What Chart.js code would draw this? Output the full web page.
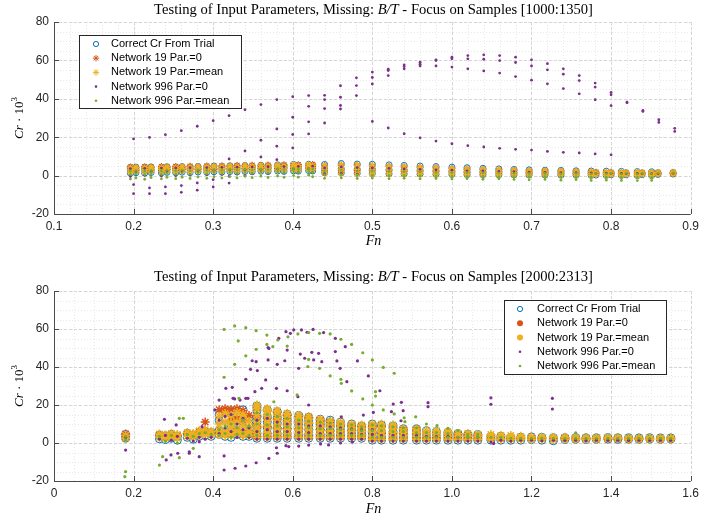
<!DOCTYPE html>
<html>
<head>
<meta charset="utf-8">
<script src="https://cdn.jsdelivr.net/npm/chart.js@4.4.1/dist/chart.umd.min.js"></script>
<style>
  html, body { margin: 0; padding: 0; background: #fff; }
  #wrap { position: relative; width: 704px; height: 521px; overflow: hidden; background: #fff; }
  canvas { position: absolute; left: 0; }
  .ttl { position: absolute; left: 54px; width: 639px; line-height: 18px; text-align: center; font: 14.6px "Liberation Serif", serif; color: #000; white-space: nowrap; }
  .xl { position: absolute; left: 54px; width: 639px; line-height: 18px; text-align: center; font: italic 14px "Liberation Serif", serif; color: #000; }
  .yl { position: absolute; font: 13px "Liberation Serif", serif; color: #000; white-space: nowrap; transform: translate(-50%, -50%) rotate(-90deg); }
  .yl sup { font-size: 9px; }
</style>
</head>
<body>
<div id="wrap">
  <canvas id="topChart" width="704" height="260" style="top:0;width:704px;height:260px"></canvas>
  <canvas id="botChart" width="704" height="261" style="top:260px;width:704px;height:261px"></canvas>
  <div class="ttl" style="top:1px">Testing of Input Parameters, Missing: <i>B/T</i> - Focus on Samples [1000:1350]</div>
  <div class="ttl" style="top:268px">Testing of Input Parameters, Missing: <i>B/T</i> - Focus on Samples [2000:2313]</div>
  <div class="xl" style="top:233px">Fn</div>
  <div class="xl" style="top:501px">Fn</div>
  <div class="yl" style="left:18px;top:118px"><i>Cr</i> · 10<sup>3</sup></div>
  <div class="yl" style="left:18px;top:386px"><i>Cr</i> · 10<sup>3</sup></div>
</div>
<script>
const labels = ["Correct Cr From Trial", "Network 19 Par.=0", "Network 19 Par.=mean", "Network 996 Par.=0", "Network 996 Par.=mean"];
const colors = ["#0072BD", "#D95319", "#EDB120", "#7E2F8E", "#77AC30"];

// ---- top plot, samples 1000:1350 ----
const topFn = [0.196, 0.203, 0.214, 0.222, 0.235, 0.242, 0.253, 0.261, 0.271, 0.281,
  0.292, 0.301, 0.311, 0.321, 0.330, 0.340, 0.349, 0.360, 0.369, 0.381,
  0.389, 0.401, 0.407, 0.420, 0.425, 0.440, 0.461, 0.481, 0.500, 0.521,
  0.540, 0.560, 0.580, 0.600, 0.619, 0.639, 0.659, 0.678, 0.697, 0.717,
  0.737, 0.756, 0.775, 0.781, 0.794, 0.800, 0.813, 0.819, 0.833, 0.839,
  0.851, 0.859, 0.878];

const topCorrect = [[1.2,2.8,4.2],[1.5,3.0,4.4],[1.3,2.9,4.3],[1.6,3.1,4.5],[1.4,2.9,4.2],[1.7,3.2,4.6],[1.5,3.0,4.3],[1.8,3.3,4.7],[1.6,3.1,4.5],[1.9,3.4,4.8],
  [1.7,3.2,4.6],[2.0,3.5,5.0],[1.8,3.3,4.7],[2.1,3.6,5.1],[1.9,3.4,4.9],[2.2,3.7,5.3],[2.0,3.5,5.0],[2.3,3.8,5.4],[2.1,3.6,5.1],[2.4,4.0,5.6],
  [2.2,3.7,5.2],[2.5,4.1,5.8],[2.3,3.8,5.3],[2.6,4.2,5.9],[2.4,3.9,5.4],[1.5,3.5,5.8],[1.4,3.6,6.3],[1.2,3.4,6.0],[1.1,3.3,5.9],[1.0,3.1,5.6],
  [0.9,3.0,5.3],[0.8,2.8,5.0],[0.7,2.6,4.7],[0.6,2.4,4.4],[0.5,2.2,4.1],[0.5,2.0,3.8],[0.4,1.9,3.5],[0.4,1.8,3.2],[0.3,1.6,3.0],[0.3,1.5,2.8],
  [0.2,1.4,2.7],[0.2,1.3,2.5],[0.1,1.2,2.4],[0.3,1.5],[0.1,1.2,2.3],[0.4,1.5],[0.1,1.1,2.2],[0.4,1.4],[0.0,1.0,2.1],[0.5,1.4],
  [0.0,1.0,2.0],[0.6,1.5],[0.8,1.6]];

const topNet19Zero = [[3.3,4.5],[2.9,4.1],[3.4,4.6],[3.0,4.3],[3.5,4.7],[3.1,4.4],[3.6,4.8],[3.2,4.5],[3.7,4.9],[3.3,4.6],
  [3.8,5.0],[3.4,4.8],[3.9,5.1],[3.5,4.9],[4.0,5.3],[3.6,5.0],[4.1,5.4],[3.7,5.1],[4.2,5.5],[3.8,5.3],
  [4.3,5.6],[3.9,5.4],[4.4,5.7],[4.0,5.5],[4.5,5.8],[3.0,5.2],[2.8,5.5],[2.6,5.3],[2.5,5.0],[2.4,4.8],
  [2.2,4.5],[2.0,4.2],[1.9,4.0],[1.8,3.7],[1.6,3.4],[1.5,3.1],[1.4,2.9],[1.3,2.7],[1.2,2.5],[1.1,2.3],
  [1.0,2.2],[1.0,2.0],[0.9,1.9],[1.0,1.8],[0.8,1.7],[1.0,1.7],[0.8,1.6],[1.0,1.6],[0.7,1.5],[1.0,1.5],
  [0.7,1.4],[1.0,1.5],[1.1,1.6]];

const topNet19Mean = [[1.8,3.0,4.0],[2.1,3.4,4.3],[1.9,3.1,4.1],[2.2,3.5,4.4],[2.0,3.2,4.1],[2.3,3.6,4.5],[2.1,3.3,4.2],[2.4,3.7,4.6],[2.2,3.4,4.4],[2.5,3.8,4.7],
  [2.3,3.5,4.5],[2.6,3.9,4.9],[2.4,3.6,4.6],[2.7,4.0,5.0],[2.5,3.7,4.8],[2.8,4.1,5.2],[2.6,3.8,4.9],[2.9,4.2,5.3],[2.7,3.9,5.0],[3.0,4.3,5.5],
  [2.8,4.0,5.1],[3.1,4.4,5.7],[2.9,4.1,5.2],[3.2,4.5,5.8],[3.0,4.2,5.3],[1.2,3.2,5.0],[1.0,3.4,5.6],[0.9,3.2,5.4],[0.8,3.0,5.2],[0.7,2.8,4.9],
  [0.6,2.6,4.6],[0.6,2.5,4.3],[0.5,2.3,4.0],[0.5,2.1,3.7],[0.4,2.0,3.4],[0.4,1.8,3.2],[0.3,1.7,3.0],[0.3,1.6,2.8],[0.3,1.4,2.6],[0.3,1.3,2.4],
  [0.2,1.3,2.3],[0.2,1.2,2.2],[0.2,1.1,2.0],[0.6,1.5],[0.2,1.0,1.9],[0.7,1.6],[0.2,1.0,1.8],[0.7,1.5],[0.1,0.9,1.8],[0.8,1.6],
  [0.1,0.9,1.7],[0.8,1.6],[0.9,1.7]];

const topNet996Mean = [[2.4,0.6,-1.8],[2.6,1.0,-1.2],[2.3,0.5,-1.9],[2.7,1.1,-1.0],[2.4,0.6,-1.7],[2.8,1.2,-0.9],[2.5,0.7,-1.6],[2.9,1.3,-0.8],[2.6,0.8,-1.5],[3.0,1.4,-0.7],
  [2.7,0.9,-1.4],[3.1,1.5,-0.6],[2.8,1.0,-1.3],[3.2,1.6,-0.5],[2.9,1.1,-1.2],[3.3,1.7,-0.4],[3.0,1.2,-1.1],[3.4,1.8,-0.3],[3.1,1.3,-1.0],[3.5,1.9,-0.2],
  [3.2,1.4,-0.9],[3.6,2.0,0.0],[3.3,1.5,-0.8],[3.7,2.1,0.2],[3.4,1.6,-0.6],[2.6,0.4,-1.4],[2.8,0.5,-1.2],[2.5,0.3,-1.5],[2.4,0.2,-1.3],[2.2,0.1,-1.6],
  [2.0,0.0,-1.4],[1.9,-0.1,-1.7],[1.7,-0.2,-1.5],[1.6,-0.3,-1.8],[1.5,-0.4,-1.6],[1.4,-0.4,-1.9],[1.3,-0.5,-1.7],[1.2,-0.5,-2.0],[1.1,-0.6,-2.2],[1.1,-0.6,-2.0],
  [1.0,-0.7,-2.4],[1.0,-0.7,-2.1],[0.9,-0.8,-2.5],[1.2],[0.9,-0.8,-2.4],[1.3],[0.8,-0.9,-2.5],[1.3],[0.8,-0.9,-2.6],[1.2],
  [0.8,-1.0,-2.5],[1.3],[1.4]];

const topNet996Zero = [[3.6,-0.5],[2.0],[3.8,0.2],[2.2],[3.9,-0.2],[2.4],[4.0,0.0],[2.5],[4.1,0.3],[2.6],
  [4.2,0.5],[2.8],[4.3,0.6],[3.0],[4.4,0.8],[3.1],[4.5,1.0],[3.2],[4.6,1.2],[3.4],
  [4.7,1.4],[3.5],[4.8,1.5],[3.6],[4.9,1.6],[4.0,1.0],[4.5,1.2],[4.2,0.8],[4.0],[3.8],
  [3.5],[3.2],[3.0],[2.8],[2.5],[2.4],[2.2],[2.0],[1.8],[1.7],
  [1.6],[1.5],[1.4],[1.2],[1.3],[1.2],[1.2],[1.1],[1.1],[1.0],
  [1.0],[1.0],[1.2]];

// scattered Network 996 Par.=0 points, [Fn, Cr]
const topNet996ZeroOut = [[0.20,19.1],[0.20,-4.7],[0.20,-9.4],[0.22,19.9],[0.22,-6.4],[0.22,-9.4],
  [0.24,21.3],[0.24,-5.9],[0.24,-9.4],[0.26,23.4],[0.26,-5.2],[0.26,-8.7],
  [0.28,25.7],[0.28,-3.8],[0.28,-7.6],[0.30,28.6],[0.30,-2.1],[0.30,-5.9],
  [0.32,31.2],[0.32,8.7],[0.32,-0.4],[0.32,-3.9],[0.34,34.3],[0.34,12.8],[0.34,0.0],
  [0.36,37.0],[0.36,18.4],[0.36,9.7],[0.38,39.6],[0.38,24.3],[0.38,15.3],[0.38,8.3],
  [0.40,41.1],[0.40,30.4],[0.40,21.4],[0.40,14.4],[0.42,41.7],[0.42,36.1],[0.42,28.0],[0.42,21.7],
  [0.44,41.8],[0.44,39.6],[0.44,34.9],[0.44,27.4],[0.46,46.8],[0.46,40.8],[0.46,36.5],[0.46,34.7],
  [0.48,50.9],[0.48,46.9],[0.48,41.7],[0.50,53.9],[0.50,51.1],[0.50,47.7],[0.50,28.2],
  [0.52,55.4],[0.52,54.7],[0.52,52.1],[0.52,24.8],[0.54,57.7],[0.54,56.8],[0.54,55.6],[0.54,21.8],
  [0.56,59.1],[0.56,58.0],[0.56,57.1],[0.56,19.7],[0.58,60.3],[0.58,59.9],[0.58,57.1],[0.58,18.0],
  [0.60,61.7],[0.60,60.8],[0.60,56.5],[0.60,16.6],[0.62,62.5],[0.62,60.8],[0.62,55.6],[0.62,15.6],
  [0.64,62.9],[0.64,60.6],[0.64,54.5],[0.64,14.9],[0.66,62.5],[0.66,59.9],[0.66,53.4],[0.66,14.2],
  [0.68,61.7],[0.68,58.9],[0.68,51.6],[0.68,13.7],[0.70,60.3],[0.70,57.1],[0.70,49.7],[0.70,13.3],
  [0.72,58.3],[0.72,55.1],[0.72,47.8],[0.72,12.6],[0.74,55.6],[0.74,52.8],[0.74,45.3],[0.74,12.1],
  [0.76,52.1],[0.76,49.5],[0.76,42.6],[0.76,11.8],[0.78,48.2],[0.78,46.1],[0.78,39.5],[0.78,11.3],
  [0.80,43.3],[0.80,42.1],[0.80,36.4],[0.80,10.8],[0.82,38.3],[0.82,37.9],[0.84,33.4],[0.84,33.9],
  [0.86,29.1],[0.86,27.7],[0.88,24.6],[0.88,23.0]];

// ---- bottom plot, samples 2000:2313 ----
const botFn = [0.180, 0.265, 0.280, 0.295, 0.310, 0.335, 0.350, 0.365, 0.380, 0.395,
  0.415, 0.430, 0.445, 0.460, 0.475, 0.490, 0.510, 0.536, 0.561, 0.586,
  0.615, 0.640, 0.669, 0.694, 0.720, 0.748, 0.773, 0.800, 0.823, 0.852,
  0.878, 0.911, 0.936, 0.961, 0.990, 1.015, 1.040, 1.065, 1.098, 1.123,
  1.148, 1.173, 1.200, 1.226, 1.255, 1.284, 1.311, 1.337, 1.363, 1.392,
  1.417, 1.444, 1.470, 1.497, 1.524, 1.550];

const botCorrect = [[2.5,4.5],[2.2,4.2],[1.8,3.8],[2.5,4.5],[1.5,3.5],[3.0,5.0],[2.0,4.2],[3.5,5.5],[4.0,6.0],[3.5,5.5],
  [4.5,6.5,12,15],[3.5,5.5,13,16.5],[3.0,5.0,9,17],[4.5,6.5,12,14.5],[3.5,5.0,8,17.5],[3.5,5.5,10,13],[2.5,5,8,11,14,17,19.5],[2.5,5,8,11,14,17.5],[2.5,5,7.5,10.5,13.5,16.5],[2.5,5,7.5,10,12.5,15],
  [2.5,4.5,7,9.5,12,14.5],[2.5,4.5,7,9.5,12,13.5],[2.5,4.5,7,9,11,12.5],[2.5,4.5,6.5,8.5,10.5,12],[2.5,4.5,6.5,8.5,11],[2.5,4.5,6.5,8.5,10],[2.5,4.5,6.5,9],[1.5,3.5,5.5,8,10],[1.5,3.5,6,9.5],[1.5,3.5,6,9],
  [1.5,3.5,5.5,7.5],[1.5,3.5,5.5,7.5],[1.5,3.5,6.5],[1.5,3.5,6],[1.5,3.5,5.5],[1.5,3.5,5],[1.5,3.5,4.5],[1.5,3.5,4.5],[1.5,3.5],[1.5,3.5],
  [1.5,3.0],[1.5,3.0],[1.8,3.2],[1.5,3.0],[1.2,2.8],[1.8,2.8],[1.9,2.9],[1.8,2.8],[1.9,2.8],[2.0,2.9],
  [1.9,2.8],[2.0,2.8],[1.9,2.7],[2.0,2.8],[1.9,2.7],[2.0,2.7]];

const botNet19Zero = [[3.5,4.8],[4.2],[3.5],[4.5],[4.0],[5.0],[4.5],[6.0],[11.0,6.0],[5.5],
  [17.5,6.5],[16.0,18.0,5.0],[17.5,12.5,5.5],[18.0,13.0,6.0],[17.0,12.0,4.5],[14.5,5.0],[3.5,8.5,13.5,18.5],[3.5,8.5,13,17],[3.5,8,12.5,16],[3.5,7.5,11.5,14.5],
  [3.5,7.5,11,14],[3.5,7,10.5,13],[3.5,7,10,12],[3.5,6.5,9.5,11.5],[3.5,6.5,9.5],[3.5,6.5,9],[3.5,6,8.5],[2.5,6,9],[2.5,5,8.5],[2.5,5,8],
  [2.5,5,7],[2.5,5,7],[2.5,5],[2.5,5],[2.5,4.5],[2.5,4.5],[2.5,4],[2.5,4],[2.5],[2.5],
  [2.3],[2.3],[2.5],[2.3],[2.0],[2.5],[2.3],[2.2],[2.3],[2.3],
  [2.2],[2.3],[2.2],[2.3],[2.2],[2.3]];

const botNet19Mean = [[2.5,4],[3.0,4.8],[2.5,4.2],[3.2,5],[2.5,4.5],[3.5,5.5],[3,5],[4,6.5],[4.5,7],[4,6],
  [4.5,6.5,10,14],[4,6,11,15.5],[4,5.5,8,10.5,14.5],[5,7,11,16],[4,6,9,13,15],[4,6,8.5,11.5],[3,5.5,7,9.5,12,15,18,20],[3,5.5,7,9.5,12,14.5,17,18],[3,5,7,9.5,12,14.5,17],[3,5,7,9,11,13.5,15.5],
  [3,5,7,9,11,13,14.5],[3,5,7,8.5,10.5,12.5,14],[3,5,6.5,8.5,10.5,12.5],[3,5,6.5,8,10,11.5],[3,5,6.5,8,10,11],[3,4.5,6,8,10],[3,4.5,6,7.5,9.5],[2,4,6,8,10],[2,4,6,8,10],[2,4,5.5,7.5,9.5],
  [2,4,5.5,7.5],[2,3.5,5.5,7.5],[2,3.5,5,6.5],[2,3.5,5,6.5],[2,3.5,5,6],[2,3.5,5],[2,3.5,5],[2,3.5,4.5],[2,3.5,4.5],[2,3.5,4],
  [2,3,4],[2,3,3.5],[2,3.2],[2,3],[1.8,3],[2,3],[2,2.8],[2,2.8],[2,2.8],[2.2,2.8],
  [2.2,2.8],[2,2.6],[2,2.6],[2,2.6],[2,2.6],[2,2.6]];

const botNet996Zero = [[3],[2],[4],[1.5],[3.5],[2.5],[1],[3],[2],[3],
  [5,12],[8,14],[6,15],[10,3],[7,13],[3,8],[2,6,12],[2,7,13],[2,6,11],[2,6,10],
  [2,5.5,10],[2,5.5,9],[2,5,9],[2,5,8.5],[2,5,8],[2,5,7.5],[2,4.5,7],[1,4.5,7],[1,4],[1,4],
  [1,4],[1,4],[1,3.5],[1,3.5],[1,3.5],[1,3],[1,3],[1,3],[0.5],[1.5],
  [1],[1.5],[1.5],[1.2],[1.5],[1.4],[1.5],[1.3],[1.5],[1.4],
  [1.5],[1.4],[1.5],[1.4],[1.5],[1.4]];

const botNet996Mean = [[1.5,3.5],[3.5],[1],[4],[0],[4.5],[3.5],[5],[5.5],[4.5],
  [7,4],[9,5],[10,3],[8,4.5],[12,5],[9,4],[4,10,16],[4,9.5,15],[4,9,14],[4,8.5,13],
  [4,8,12],[4,8,11.5],[4,7.5,11],[4,7.5,10.5],[4,7,10],[4,7,9.5],[4,6.5,8.5],[3,6.5,9.5],[3,6.5,9],[3,6,8.5],
  [3,6,8],[3,5.5,8],[3,5.5],[3,5.5],[3,5],[3,6.5],[3,4.5],[3,4.5],[3],[3],
  [2.5],[2.5],[2.5],[2.5],[2.5],[2.5],[2.5],[2.5],[2.5],[2.5],
  [2.5],[2.5],[2.5],[2.5],[2.5],[2.5]];

const botNet996ZeroOut = [[0.18,-3.7],[0.2775,12.5],[0.282,-8.9],[0.294,-6.3],[0.307,9.5],[0.311,-5.4],[0.34,-5.4],[0.34,-4.6],[0.365,0.7],[0.365,-7.2],
  [0.372,8.6],[0.404,17.4],[0.415,22.6],[0.432,28.8],[0.448,29.3],[0.45,23.5],[0.454,23.2],[0.4675,22.6],[0.482,33.5],[0.482,23.5],
  [0.4875,23.5],[0.494,38.8],[0.498,43.3],[0.505,27.0],[0.508,42.8],[0.511,38.1],[0.522,28.8],[0.532,33.2],[0.538,50.2],[0.538,43.7],
  [0.54,49.8],[0.559,28.8],[0.561,41.4],[0.565,55.1],[0.58,43.3],[0.583,58.6],[0.586,48.9],[0.586,27.5],[0.594,57.7],[0.6025,59.5],
  [0.613,24.4],[0.615,39.3],[0.619,46.8],[0.622,59.5],[0.63,44.6],[0.636,58.3],[0.64,20.0],[0.648,47.7],[0.651,59.8],[0.6525,43.7],
  [0.665,47.2],[0.673,42.8],[0.6775,58.1],[0.707,55.1],[0.707,48.1],[0.711,43.2],[0.719,39.3],[0.722,13.8],[0.732,50.7],[0.736,32.3],
  [0.7625,43.2],[0.7775,14.7],[0.79,35.3],[0.8025,16.1],[0.819,27.5],[0.848,16.5],[0.8525,20.5],[0.873,21.4],[0.8775,17.0],[0.872,11.7],
  [0.94,21.2],[0.94,19.1],[1.098,23.8],[1.098,20.4],[1.2525,23.5],[1.2525,17.9],[1.105,-0.2],
  [0.4275,-6.8],[0.4275,-14.2],[0.455,-13.3],[0.482,-12.1],[0.508,-10.4],[0.54,-8.1],[0.561,-5.4],[0.559,-2.5],[0.583,-1.4],[0.59,-1.9],
  [0.615,-1.6],[0.64,-1.1],[0.67,-0.5],[0.69,-1.0],[0.72,0.0],[0.75,0.5]];

const botNet996MeanOut = [[0.18,-15.1],[0.178,-17.7],[0.265,-11.6],[0.273,-7.2],[0.315,-7.7],[0.35,-2.8],[0.315,13.0],[0.325,13.0],
  [0.4275,59.8],[0.454,61.6],[0.482,60.7],[0.508,59.1],[0.535,56.8],[0.4275,34.6],[0.454,41.4],[0.463,53.7],[0.482,45.9],[0.508,49.3],
  [0.535,51.9],[0.55,50.7],[0.5625,54.2],[0.586,51.0],[0.588,55.9],[0.613,57.4],[0.64,58.1],[0.6675,57.7],[0.694,57.4],[0.721,54.6],
  [0.748,51.9],[0.776,47.5],[0.80,43.7],[0.8275,39.8],[0.855,36.7],[0.638,40.2],[0.64,44.0],[0.6675,39.3],[0.694,35.3],[0.721,33.5],
  [0.722,31.4],[0.748,27.4],[0.776,23.2],[0.80,20.0],[0.808,27.0],[0.808,24.7],[0.8275,17.4],[0.855,15.3],[0.88,13.3],[0.882,11.2],
  [0.909,13.8],[0.936,10.0],[0.9625,9.1],[0.99,7.7],[1.311,5.4],[0.5525,21.7],[0.611,25.3],[0.465,23.5]];

function clusterPoints(fns, cols) {
  const out = [];
  cols.forEach((col, i) => col.forEach(v => out.push({ x: fns[i], y: v })));
  return out;
}
function pairPoints(list) {
  return list.map(([x, y]) => ({ x, y }));
}

function makeDatasets(big, correct, r0, rm, p0, pm) {
  const ring = big ? 4 : 3;
  const star = big ? 4.5 : 3.5;
  const dot = big ? 1.6 : 1.4;
  return [
    { label: labels[0], data: correct, pointStyle: "circle", pointRadius: ring, borderColor: colors[0], backgroundColor: "rgba(0,0,0,0)", pointBorderWidth: 1, order: 5 },
    { label: labels[1], data: r0, pointStyle: "star", pointRadius: star, borderColor: colors[1], backgroundColor: colors[1], pointBorderWidth: big ? 1.5 : 1.2, order: 4 },
    { label: labels[2], data: rm, pointStyle: "star", pointRadius: star, borderColor: colors[2], backgroundColor: colors[2], pointBorderWidth: big ? 1.5 : 1.2, order: 3 },
    { label: labels[3], data: p0, pointStyle: "circle", pointRadius: dot, borderColor: colors[3], backgroundColor: colors[3], pointBorderWidth: 0, order: 2 },
    { label: labels[4], data: pm, pointStyle: "circle", pointRadius: dot, borderColor: colors[4], backgroundColor: colors[4], pointBorderWidth: 0, order: 1 },
  ];
}

function drawMarker(ctx, kind, color, x, y) {
  ctx.save();
  ctx.setLineDash([]);
  ctx.strokeStyle = color;
  ctx.fillStyle = color;
  ctx.lineWidth = 1;
  if (kind === "ring") {
    ctx.beginPath(); ctx.arc(x, y, 2.6, 0, Math.PI * 2); ctx.stroke();
  } else if (kind === "star") {
    ctx.lineWidth = 1;
    ctx.beginPath();
    const r = 3.2, d = r * 0.707;
    ctx.moveTo(x - r, y); ctx.lineTo(x + r, y);
    ctx.moveTo(x, y - r); ctx.lineTo(x, y + r);
    ctx.moveTo(x - d, y - d); ctx.lineTo(x + d, y + d);
    ctx.moveTo(x - d, y + d); ctx.lineTo(x + d, y - d);
    ctx.stroke();
  } else if (kind === "blob") {
    ctx.beginPath(); ctx.arc(x, y, 3, 0, Math.PI * 2); ctx.fill();
  } else {
    ctx.beginPath(); ctx.arc(x, y, 1.3, 0, Math.PI * 2); ctx.fill();
  }
  ctx.restore();
}

const matlabLook = {
  id: "matlabLook",
  beforeDatasetsDraw(chart, args, o) {
    const { ctx, chartArea: a } = chart;
    const x = chart.scales.x, y = chart.scales.y;
    ctx.save();
    ctx.lineWidth = 1;
    const vlines = (step, color, dash) => {
      ctx.strokeStyle = color; ctx.setLineDash(dash);
      const n = Math.round((x.max - x.min) / step);
      for (let i = 0; i <= n; i++) {
        const px = Math.round(x.getPixelForValue(x.min + i * step)) + 0.5;
        ctx.beginPath(); ctx.moveTo(px, a.top); ctx.lineTo(px, a.bottom); ctx.stroke();
      }
    };
    const hlines = (step, color, dash) => {
      ctx.strokeStyle = color; ctx.setLineDash(dash);
      const n = Math.round((y.max - y.min) / step);
      for (let i = 0; i <= n; i++) {
        const py = Math.round(y.getPixelForValue(y.min + i * step)) + 0.5;
        ctx.beginPath(); ctx.moveTo(a.left, py); ctx.lineTo(a.right, py); ctx.stroke();
      }
    };
    vlines(o.xMinor, "#e8e8e8", [1, 2]);
    hlines(o.yMinor, "#e8e8e8", [1, 2]);
    vlines(o.xMajor, "#d6d6d6", [3, 2]);
    hlines(o.yMajor, "#d6d6d6", [3, 2]);
    ctx.restore();
  },
  afterDatasetsDraw(chart, args, o) {
    const { ctx, chartArea: a } = chart;
    const x = chart.scales.x, y = chart.scales.y;
    ctx.save();
    ctx.setLineDash([]);
    ctx.strokeStyle = "#4a4a4a";
    ctx.lineWidth = 1;
    ctx.beginPath();
    ctx.moveTo(a.left + 0.5, a.top); ctx.lineTo(a.left + 0.5, a.bottom + 0.5); ctx.lineTo(a.right, a.bottom + 0.5);
    ctx.stroke();
    ctx.beginPath();
    const nx = Math.round((x.max - x.min) / o.xMajor);
    for (let i = 0; i <= nx; i++) {
      const px = Math.round(x.getPixelForValue(x.min + i * o.xMajor)) + 0.5;
      ctx.moveTo(px, a.bottom); ctx.lineTo(px, a.bottom - 5);
    }
    const ny = Math.round((y.max - y.min) / o.yMajor);
    for (let i = 0; i <= ny; i++) {
      const py = Math.round(y.getPixelForValue(y.min + i * o.yMajor)) + 0.5;
      ctx.moveTo(a.left, py); ctx.lineTo(a.left + 5, py);
    }
    ctx.stroke();

    // legend box
    const L = o.legend;
    ctx.fillStyle = "#fff";
    ctx.fillRect(L.x, L.y, L.w, L.h);
    ctx.strokeStyle = "#262626";
    ctx.lineWidth = 1;
    ctx.strokeRect(L.x + 0.5, L.y + 0.5, L.w, L.h);
    ctx.font = '11px "Liberation Sans", Arial, sans-serif';
    ctx.textBaseline = "middle";
    labels.forEach((lab, i) => {
      const cy = L.y + L.row0 + i * L.dy;
      drawMarker(ctx, L.markers[i], colors[i], L.mx, cy);
      ctx.fillStyle = "#000";
      ctx.fillText(lab, L.tx, cy);
    });
    ctx.restore();
  },
};

const tickFont = { family: '"Liberation Sans", Arial, sans-serif', size: 12 };

function buildChart(id, cfg) {
  return new Chart(document.getElementById(id), {
    type: "scatter",
    data: { datasets: cfg.datasets },
    options: {
      responsive: false,
      animation: false,
      devicePixelRatio: 1,
      layout: { padding: { top: cfg.padTop, right: 11, left: 0, bottom: 0 } },
      plugins: {
        legend: { display: false },
        tooltip: { enabled: false },
        matlabLook: cfg.look,
      },
      scales: {
        x: {
          type: "linear", min: cfg.xMin, max: cfg.xMax,
          afterFit: (s) => { s.height = cfg.xHeight; },
          ticks: { stepSize: cfg.look.xMajor, color: "#262626", font: tickFont, padding: 5, maxRotation: 0, autoSkip: false },
          grid: { display: false, drawTicks: false },
          border: { display: false },
        },
        y: {
          min: -20, max: 80,
          afterFit: (s) => { s.width = 54; },
          ticks: { stepSize: 20, color: "#262626", font: tickFont, padding: 5 },
          grid: { display: false, drawTicks: false },
          border: { display: false },
        },
      },
    },
    plugins: [matlabLook],
  });
}

buildChart("topChart", {
  padTop: 22, xHeight: 46, xMin: 0.1, xMax: 0.9,
  datasets: makeDatasets(false,
    clusterPoints(topFn, topCorrect),
    clusterPoints(topFn, topNet19Zero),
    clusterPoints(topFn, topNet19Mean),
    clusterPoints(topFn, topNet996Zero).concat(pairPoints(topNet996ZeroOut)),
    clusterPoints(topFn, topNet996Mean)),
  look: {
    xMajor: 0.1, xMinor: 0.02, yMajor: 20, yMinor: 5,
    legend: { x: 79, y: 35, w: 162, h: 73, row0: 9, dy: 14.2, mx: 96, tx: 111, markers: ["ring", "star", "star", "dot", "dot"] },
  },
});

buildChart("botChart", {
  padTop: 31, xHeight: 40, xMin: 0, xMax: 1.6,
  datasets: makeDatasets(true,
    clusterPoints(botFn, botCorrect),
    clusterPoints(botFn, botNet19Zero),
    clusterPoints(botFn, botNet19Mean),
    clusterPoints(botFn, botNet996Zero).concat(pairPoints(botNet996ZeroOut)),
    clusterPoints(botFn, botNet996Mean).concat(pairPoints(botNet996MeanOut))),
  look: {
    xMajor: 0.2, xMinor: 0.05, yMajor: 20, yMinor: 5,
    legend: { x: 504, y: 40, w: 162, h: 74, row0: 9, dy: 14.25, mx: 520, tx: 537, markers: ["ring", "blob", "blob", "dot", "dot"] },
  },
});
</script>
</body>
</html>
